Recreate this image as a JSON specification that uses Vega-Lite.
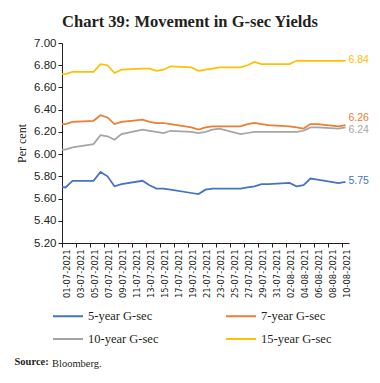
{
  "$schema": "https://vega.github.io/schema/vega-lite/v6.json",
  "width": 287,
  "height": 200,
  "autosize": {"type": "none"},
  "padding": {"left": 62, "top": 43, "right": 31, "bottom": 140},
  "background": "white",
  "title": {
    "text": "Chart 39: Movement in G-sec Yields",
    "font": "Liberation Serif",
    "fontSize": 16.5,
    "fontWeight": "bold",
    "color": "#231f20",
    "anchor": "middle",
    "dx": -15.5,
    "offset": 7
  },
  "data": {
    "values": [
      {"date": "2021-06-30", "5-year G-sec": 5.71, "7-year G-sec": 6.27, "10-year G-sec": 6.04, "15-year G-sec": 6.72},
      {"date": "2021-07-01", "5-year G-sec": 5.70, "7-year G-sec": 6.27, "10-year G-sec": 6.04, "15-year G-sec": 6.72},
      {"date": "2021-07-02", "5-year G-sec": 5.76, "7-year G-sec": 6.29, "10-year G-sec": 6.06, "15-year G-sec": 6.74},
      {"date": "2021-07-05", "5-year G-sec": 5.76, "7-year G-sec": 6.30, "10-year G-sec": 6.09, "15-year G-sec": 6.74},
      {"date": "2021-07-06", "5-year G-sec": 5.84, "7-year G-sec": 6.35, "10-year G-sec": 6.17, "15-year G-sec": 6.81},
      {"date": "2021-07-07", "5-year G-sec": 5.80, "7-year G-sec": 6.33, "10-year G-sec": 6.16, "15-year G-sec": 6.80},
      {"date": "2021-07-08", "5-year G-sec": 5.71, "7-year G-sec": 6.27, "10-year G-sec": 6.13, "15-year G-sec": 6.73},
      {"date": "2021-07-09", "5-year G-sec": 5.73, "7-year G-sec": 6.29, "10-year G-sec": 6.18, "15-year G-sec": 6.76},
      {"date": "2021-07-12", "5-year G-sec": 5.76, "7-year G-sec": 6.31, "10-year G-sec": 6.22, "15-year G-sec": 6.77},
      {"date": "2021-07-13", "5-year G-sec": 5.72, "7-year G-sec": 6.29, "10-year G-sec": 6.21, "15-year G-sec": 6.77},
      {"date": "2021-07-14", "5-year G-sec": 5.69, "7-year G-sec": 6.28, "10-year G-sec": 6.20, "15-year G-sec": 6.75},
      {"date": "2021-07-15", "5-year G-sec": 5.69, "7-year G-sec": 6.28, "10-year G-sec": 6.19, "15-year G-sec": 6.76},
      {"date": "2021-07-16", "5-year G-sec": 5.68, "7-year G-sec": 6.27, "10-year G-sec": 6.21, "15-year G-sec": 6.79},
      {"date": "2021-07-19", "5-year G-sec": 5.65, "7-year G-sec": 6.24, "10-year G-sec": 6.20, "15-year G-sec": 6.78},
      {"date": "2021-07-20", "5-year G-sec": 5.64, "7-year G-sec": 6.22, "10-year G-sec": 6.19, "15-year G-sec": 6.75},
      {"date": "2021-07-21", "5-year G-sec": 5.68, "7-year G-sec": 6.24, "10-year G-sec": 6.20, "15-year G-sec": 6.76},
      {"date": "2021-07-22", "5-year G-sec": 5.69, "7-year G-sec": 6.25, "10-year G-sec": 6.22, "15-year G-sec": 6.77},
      {"date": "2021-07-23", "5-year G-sec": 5.69, "7-year G-sec": 6.25, "10-year G-sec": 6.23, "15-year G-sec": 6.78},
      {"date": "2021-07-26", "5-year G-sec": 5.69, "7-year G-sec": 6.25, "10-year G-sec": 6.18, "15-year G-sec": 6.78},
      {"date": "2021-07-27", "5-year G-sec": 5.70, "7-year G-sec": 6.27, "10-year G-sec": 6.19, "15-year G-sec": 6.80},
      {"date": "2021-07-28", "5-year G-sec": 5.71, "7-year G-sec": 6.28, "10-year G-sec": 6.20, "15-year G-sec": 6.83},
      {"date": "2021-07-29", "5-year G-sec": 5.73, "7-year G-sec": 6.27, "10-year G-sec": 6.20, "15-year G-sec": 6.81},
      {"date": "2021-07-30", "5-year G-sec": 5.73, "7-year G-sec": 6.26, "10-year G-sec": 6.20, "15-year G-sec": 6.81},
      {"date": "2021-08-02", "5-year G-sec": 5.74, "7-year G-sec": 6.25, "10-year G-sec": 6.20, "15-year G-sec": 6.81},
      {"date": "2021-08-03", "5-year G-sec": 5.71, "7-year G-sec": 6.24, "10-year G-sec": 6.20, "15-year G-sec": 6.84},
      {"date": "2021-08-04", "5-year G-sec": 5.72, "7-year G-sec": 6.23, "10-year G-sec": 6.21, "15-year G-sec": 6.84},
      {"date": "2021-08-05", "5-year G-sec": 5.78, "7-year G-sec": 6.27, "10-year G-sec": 6.24, "15-year G-sec": 6.84},
      {"date": "2021-08-06", "5-year G-sec": 5.77, "7-year G-sec": 6.27, "10-year G-sec": 6.24, "15-year G-sec": 6.84},
      {"date": "2021-08-09", "5-year G-sec": 5.74, "7-year G-sec": 6.25, "10-year G-sec": 6.23, "15-year G-sec": 6.84},
      {"date": "2021-08-10", "5-year G-sec": 5.75, "7-year G-sec": 6.26, "10-year G-sec": 6.24, "15-year G-sec": 6.84}
    ]
  },
  "transform": [
    {"fold": ["5-year G-sec", "7-year G-sec", "10-year G-sec", "15-year G-sec"], "as": ["series", "value"]}
  ],
  "encoding": {
    "x": {
      "field": "date",
      "type": "temporal",
      "scale": {
        "type": "utc",
        "domain": [
          {"year": 2021, "month": 6, "date": 30, "hours": 12, "utc": true},
          {"year": 2021, "month": 8, "date": 10, "hours": 12, "utc": true}
        ]
      },
      "axis": {
        "values": [
          {"year": 2021, "month": 7, "date": 1, "utc": true},
          {"year": 2021, "month": 7, "date": 3, "utc": true},
          {"year": 2021, "month": 7, "date": 5, "utc": true},
          {"year": 2021, "month": 7, "date": 7, "utc": true},
          {"year": 2021, "month": 7, "date": 9, "utc": true},
          {"year": 2021, "month": 7, "date": 11, "utc": true},
          {"year": 2021, "month": 7, "date": 13, "utc": true},
          {"year": 2021, "month": 7, "date": 15, "utc": true},
          {"year": 2021, "month": 7, "date": 17, "utc": true},
          {"year": 2021, "month": 7, "date": 19, "utc": true},
          {"year": 2021, "month": 7, "date": 21, "utc": true},
          {"year": 2021, "month": 7, "date": 23, "utc": true},
          {"year": 2021, "month": 7, "date": 25, "utc": true},
          {"year": 2021, "month": 7, "date": 27, "utc": true},
          {"year": 2021, "month": 7, "date": 29, "utc": true},
          {"year": 2021, "month": 7, "date": 31, "utc": true},
          {"year": 2021, "month": 8, "date": 2, "utc": true},
          {"year": 2021, "month": 8, "date": 4, "utc": true},
          {"year": 2021, "month": 8, "date": 6, "utc": true},
          {"year": 2021, "month": 8, "date": 8, "utc": true},
          {"year": 2021, "month": 8, "date": 10, "utc": true}
        ],
        "format": "%d-%m-%Y",
        "labelAngle": 270,
        "labelAlign": "right",
        "labelBaseline": "middle",
        "labelFont": "Liberation Sans Narrow, DejaVu Sans Condensed, Liberation Sans",
        "labelFontSize": 9.3,
        "labelColor": "#231f20",
        "labelPadding": 2,
        "labelOverlap": false,
        "labelFlush": false,
        "tickOffset": -3.5,
        "labelOffset": 4,
        "tickSize": 4,
        "tickColor": "#231f20",
        "domainColor": "#231f20",
        "grid": false,
        "title": "Source:",
        "titleFont": "Liberation Serif",
        "titleFontSize": 10.5,
        "titleFontWeight": "bold",
        "titleColor": "#231f20",
        "titleAlign": "left",
        "titleBaseline": "alphabetic",
        "titleX": -48,
        "titleY": 121
      }
    },
    "y": {
      "field": "value",
      "type": "quantitative",
      "scale": {"domain": [5.2, 7.0], "nice": false, "zero": false},
      "axis": {
        "values": [5.2, 5.4, 5.6, 5.8, 6.0, 6.2, 6.4, 6.6, 6.8, 7.0],
        "format": ".2f",
        "title": "Per cent",
        "titleFont": "Liberation Serif",
        "titleFontSize": 12,
        "titleFontWeight": "normal",
        "titleColor": "#231f20",
        "titlePadding": 5,
        "labelFont": "Liberation Sans",
        "labelFontSize": 11.5,
        "labelColor": "#231f20",
        "labelPadding": 2,
        "tickSize": 4,
        "tickColor": "#231f20",
        "domainColor": "#231f20",
        "grid": false
      }
    },
    "color": {
      "field": "series",
      "type": "nominal",
      "scale": {
        "domain": ["5-year G-sec", "7-year G-sec", "10-year G-sec", "15-year G-sec"],
        "range": ["#4472C4", "#ED7D31", "#A5A5A5", "#FFC000"]
      }
    }
  },
  "layer": [
    {
      "mark": {"type": "line", "strokeWidth": 1.75, "clip": true},
      "encoding": {
        "color": {
          "field": "series",
          "type": "nominal",
          "legend": {
            "orient": "none",
            "legendX": -10,
            "legendY": 257,
            "columns": 2,
            "direction": "horizontal",
            "columnPadding": 63,
            "rowPadding": -2,
            "symbolType": "stroke",
            "symbolSize": 900,
            "symbolStrokeWidth": 2,
            "labelFont": "Liberation Serif",
            "labelFontSize": 12.5,
            "labelColor": "#231f20",
            "labelOffset": 4,
            "title": "Bloomberg.",
            "titleOrient": "bottom",
            "titleAnchor": "start",
            "titleFont": "Liberation Serif",
            "titleFontSize": 10.5,
            "titleFontWeight": "normal",
            "titleColor": "#231f20",
            "titlePadding": 13
          }
        }
      }
    },
    {
      "transform": [{"filter": {"field": "series", "oneOf": ["5-year G-sec", "15-year G-sec"]}}],
      "mark": {"type": "text", "align": "left", "baseline": "middle", "dx": 3, "dy": -1, "font": "Liberation Sans", "fontSize": 10.5},
      "encoding": {
        "x": {"field": "date", "type": "temporal", "aggregate": "max"},
        "y": {"field": "value", "type": "quantitative", "aggregate": {"argmax": "date"}},
        "text": {"field": "value", "type": "quantitative", "aggregate": {"argmax": "date"}, "format": ".2f"},
        "color": {"field": "series", "type": "nominal", "legend": null}
      }
    },
    {
      "transform": [{"filter": {"field": "series", "equal": "7-year G-sec"}}],
      "mark": {"type": "text", "align": "left", "baseline": "middle", "dx": 3, "dy": -7, "font": "Liberation Sans", "fontSize": 10.5},
      "encoding": {
        "x": {"field": "date", "type": "temporal", "aggregate": "max"},
        "y": {"field": "value", "type": "quantitative", "aggregate": {"argmax": "date"}},
        "text": {"field": "value", "type": "quantitative", "aggregate": {"argmax": "date"}, "format": ".2f"},
        "color": {"field": "series", "type": "nominal", "legend": null}
      }
    },
    {
      "transform": [{"filter": {"field": "series", "equal": "10-year G-sec"}}],
      "mark": {"type": "text", "align": "left", "baseline": "middle", "dx": 3, "dy": 3, "font": "Liberation Sans", "fontSize": 10.5},
      "encoding": {
        "x": {"field": "date", "type": "temporal", "aggregate": "max"},
        "y": {"field": "value", "type": "quantitative", "aggregate": {"argmax": "date"}},
        "text": {"field": "value", "type": "quantitative", "aggregate": {"argmax": "date"}, "format": ".2f"},
        "color": {"field": "series", "type": "nominal", "legend": null}
      }
    }
  ],
  "config": {
    "view": {"stroke": null}
  }
}
